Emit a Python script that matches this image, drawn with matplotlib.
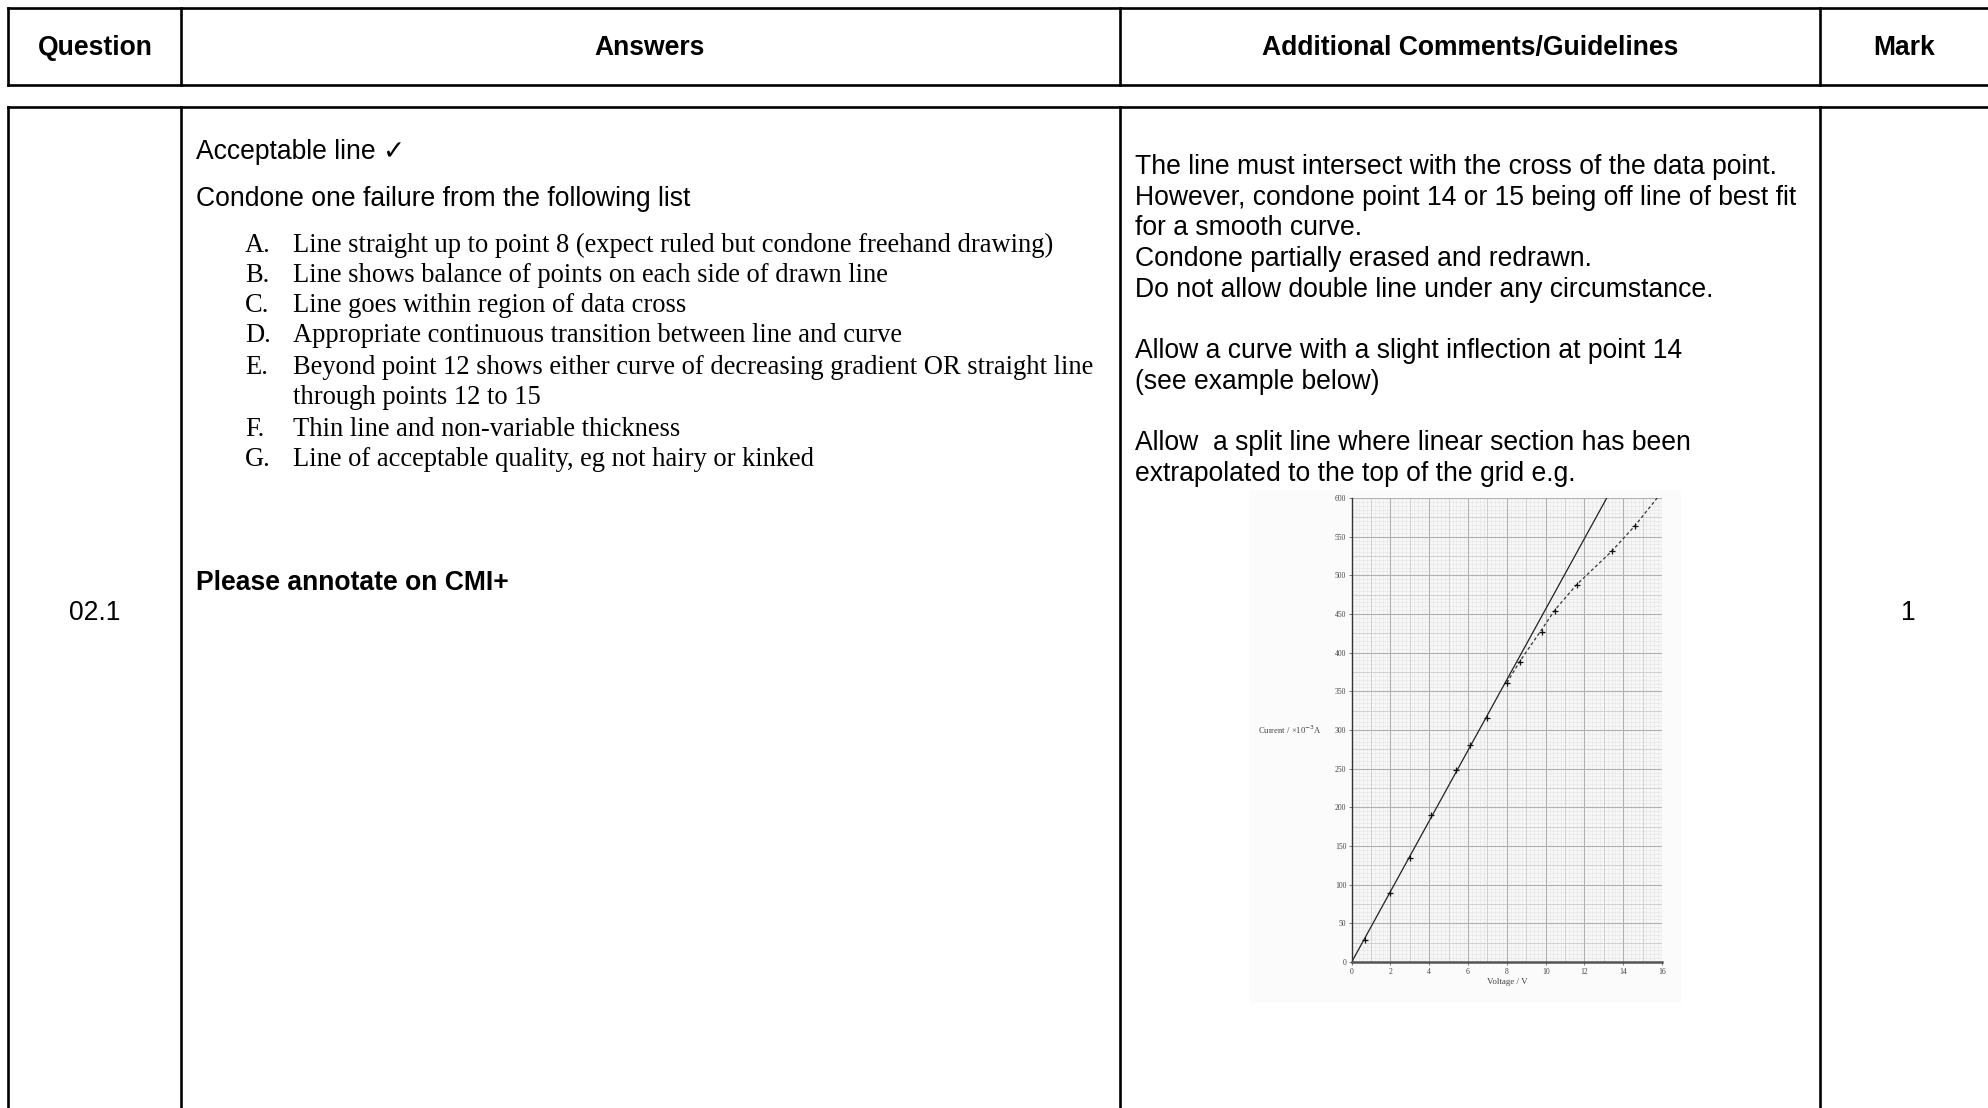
import matplotlib.pyplot as plt
import numpy as np

# ---- content ----
headers = ["Question", "Answers", "Additional Comments/Guidelines", "Mark"]
question = "02.1"
mark = "1"

answer_intro = ["Acceptable line \u2713", "Condone one failure from the following list"]
list_letters = ["A.", "B.", "C.", "D.", "E.", "", "F.", "G."]
list_lines = [
    "Line straight up to point 8 (expect ruled but condone freehand drawing)",
    "Line shows balance of points on each side of drawn line",
    "Line goes within region of data cross",
    "Appropriate continuous transition between line and curve",
    "Beyond point 12 shows either curve of decreasing gradient OR straight line",
    "through points 12 to 15",
    "Thin line and non-variable thickness",
    "Line of acceptable quality, eg not hairy or kinked",
]
annotate_note = "Please annotate on CMI+"

comment_lines = [
    "The line must intersect with the cross of the data point.",
    "However, condone point 14 or 15 being off line of best fit",
    "for a smooth curve.",
    "Condone partially erased and redrawn.",
    "Do not allow double line under any circumstance.",
    "",
    "Allow a curve with a slight inflection at point 14",
    "(see example below)",
    "",
    "Allow  a split line where linear section has been",
    "extrapolated to the top of the grid e.g.",
]

# example graph data
voltage = [0, 0.7, 2.0, 3.0, 4.1, 5.4, 6.1, 7.0, 8.0, 8.7, 9.8, 10.5, 11.6, 13.4, 14.6]
current = [0, 29, 89, 134, 190, 248, 280, 315, 361, 388, 427, 454, 488, 531, 564]
line_v = [0, 13.15]
line_i = [0, 600]
curve_v = [8.0, 8.7, 9.8, 10.5, 11.6, 13.4, 14.6, 15.75]
curve_i = [361, 390, 430, 456, 488, 531, 564, 600]

W, H = 1988, 1108
sans = ["Liberation Sans", "DejaVu Sans"]
serif = ["Liberation Serif", "DejaVu Serif"]
fs = 19.1

fig = plt.figure(figsize=(W / 100, H / 100), dpi=100)
fig.patch.set_facecolor("white")

# overlay axes in pixel coords for the table
tab = fig.add_axes([0, 0, 1, 1])
tab.set_xlim(0, W)
tab.set_ylim(H, 0)
tab.axis("off")

lw = 1.9
col_x = [8, 181, 1120, 1820]
# header box
tab.plot([8, W], [7.5, 7.5], color="k", lw=lw)
tab.plot([8, W], [84.5, 84.5], color="k", lw=lw)
for x in col_x:
    tab.plot([x, x], [7.5, 84.5], color="k", lw=lw)
# body box
tab.plot([8, W], [107, 107], color="k", lw=lw)
for x in col_x:
    tab.plot([x, x], [107, H], color="k", lw=lw)

header_cx = [95, 650, 1470, 1904]
for cx, h in zip(header_cx, headers):
    tab.text(cx, 48, h, ha="center", va="center", fontsize=fs,
             fontweight="bold", family=sans)

tab.text(95, 613, question, ha="center", va="center", fontsize=fs, family=sans)
tab.text(1908, 613, mark, ha="center", va="center", fontsize=fs, family=sans)

# answers column
tab.text(196, 152, answer_intro[0], ha="left", va="center", fontsize=fs, family=sans)
tab.text(196, 199, answer_intro[1], ha="left", va="center", fontsize=fs, family=sans)
list_y = [245, 275, 306, 336, 367, 398, 429, 459]
for y, let, txt in zip(list_y, list_letters, list_lines):
    tab.text(245, y, let, ha="left", va="center", fontsize=fs, family=serif)
    tab.text(293, y, txt, ha="left", va="center", fontsize=fs, family=serif)
tab.text(196, 583, annotate_note, ha="left", va="center", fontsize=fs,
         fontweight="bold", family=sans)

# comments column
for i, txt in enumerate(comment_lines):
    tab.text(1135, 167 + i * 30.7, txt, ha="left", va="center", fontsize=fs, family=sans)

# faint scan background behind the small graph
tab.add_patch(plt.Rectangle((1250, 490), 430, 512, color="#fbfbfb", zorder=0))

# ---- example graph ----
left, right = 1351.7, 1662.0
top, bottom = 498.0, 962.0
ax = fig.add_axes([left / W, 1 - bottom / H, (right - left) / W, (bottom - top) / H])
ax.set_facecolor("#f7f7f7")
ax.set_xlim(0, 16)
ax.set_ylim(0, 600)

# graph paper grid
for v in np.arange(0.2, 16.01, 0.2):
    ax.axvline(v, color="#e4e4e4", lw=0.4, zorder=1)
for c in np.arange(5, 600.1, 5):
    ax.axhline(c, color="#e4e4e4", lw=0.4, zorder=1)
for v in np.arange(1, 16.01, 1):
    ax.axvline(v, color="#cccccc", lw=0.6, zorder=1)
for c in np.arange(25, 600.1, 25):
    ax.axhline(c, color="#cccccc", lw=0.6, zorder=1)
for v in np.arange(2, 16.01, 2):
    ax.axvline(v, color="#b0b0b0", lw=0.8, zorder=1)
for c in np.arange(50, 600.1, 50):
    ax.axhline(c, color="#b0b0b0", lw=0.8, zorder=1)

ax.plot(line_v, line_i, color="#222222", lw=0.9, zorder=3)
ax.plot(curve_v, curve_i, color="#333333", lw=0.9, ls=(0, (2.5, 2)), zorder=3)
ax.plot(voltage, current, ls="none", marker="+", ms=5, mew=0.9, color="#111111", zorder=4)

for s in ["top", "right"]:
    ax.spines[s].set_visible(False)
ax.spines["left"].set_color("#333333")
ax.spines["left"].set_linewidth(1.0)
ax.spines["bottom"].set_color("#555555")
ax.spines["bottom"].set_linewidth(1.8)
ax.spines["left"].set_zorder(5)
ax.spines["bottom"].set_zorder(5)

ax.set_xticks(np.arange(0, 17, 2))
ax.set_yticks(np.arange(0, 601, 50))
ax.tick_params(length=2, width=0.5, pad=2, labelsize=5.5, colors="#444444")
for lab in ax.get_xticklabels() + ax.get_yticklabels():
    lab.set_family(serif)
ax.set_xlabel("Voltage / V", fontsize=6.5, family=serif, color="#444444", labelpad=2)
ax.text(-0.095, 300, "Current / \u00d710$^{-3}$A", transform=ax.get_yaxis_transform(),
        ha="right", va="center", fontsize=6.2, family=serif, color="#444444")

fig.savefig("out.png", dpi=100)
